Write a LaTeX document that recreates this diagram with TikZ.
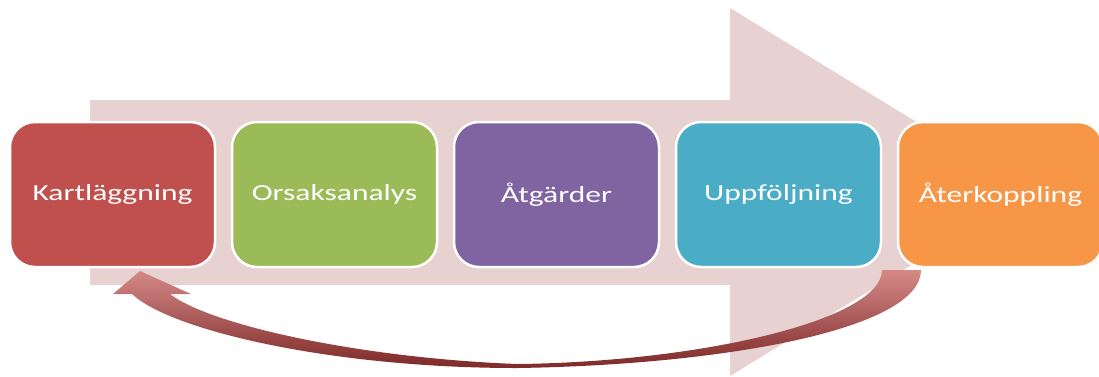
\documentclass[tikz,border=0pt]{standalone}
\usepackage{fontspec}
\newfontfamily\boxfont[FakeStretch=1.37]{Carlito}
\usetikzlibrary{positioning}

\definecolor{bandpink}{HTML}{E8D1D1}
\definecolor{kartred}{HTML}{C0504D}
\definecolor{orsgreen}{HTML}{9BBB59}
\definecolor{atgpurple}{HTML}{8064A2}
\definecolor{uppblue}{HTML}{4BACC6}
\definecolor{aterorange}{HTML}{F79646}
\definecolor{looplight}{HTML}{D58A88}
\definecolor{loopdark}{HTML}{7D2A29}

\begin{document}
\begin{tikzpicture}[x=1pt, y=-1pt, node distance=14.5pt,
  stepbox/.style={draw=white, line width=2.5pt, rounded corners=25pt,
    minimum width=205pt, minimum height=145pt, inner sep=0pt,
    text=white, font=\boxfont\fontsize{23}{26}\selectfont}]
\useasboundingbox (0,0) rectangle (1099,376);

\fill[bandpink] (90,100) -- (730,100) -- (730,8) -- (1031,192) -- (730,376) -- (730,285) -- (90,285) -- cycle;

\node[stepbox, fill=kartred] (kart) at (112.5,194.5) {Kartläggning};
\node[stepbox, fill=orsgreen, right=of kart] (orsak) {Orsaksanalys};
\node[stepbox, fill=atgpurple, right=of orsak] (atgard) {Åtgärder};
\node[stepbox, fill=uppblue, right=of atgard] (uppf) {Uppföljning};
\node[stepbox, fill=aterorange, right=of uppf] (ater) {Återkoppling};

\shade[top color=looplight, bottom color=loopdark]
  (882,270) -- (921,270)
  .. controls (921,330) and (720,365) .. (517,368)
  .. controls (330,368) and (170,330) .. (132,294)
  -- (113,294) -- (140,271) -- (191,294) -- (170,294)
  .. controls (210,325) and (360,358) .. (517,364)
  .. controls (700,362) and (882,320) .. (882,270) -- cycle;
\end{tikzpicture}
\end{document}
